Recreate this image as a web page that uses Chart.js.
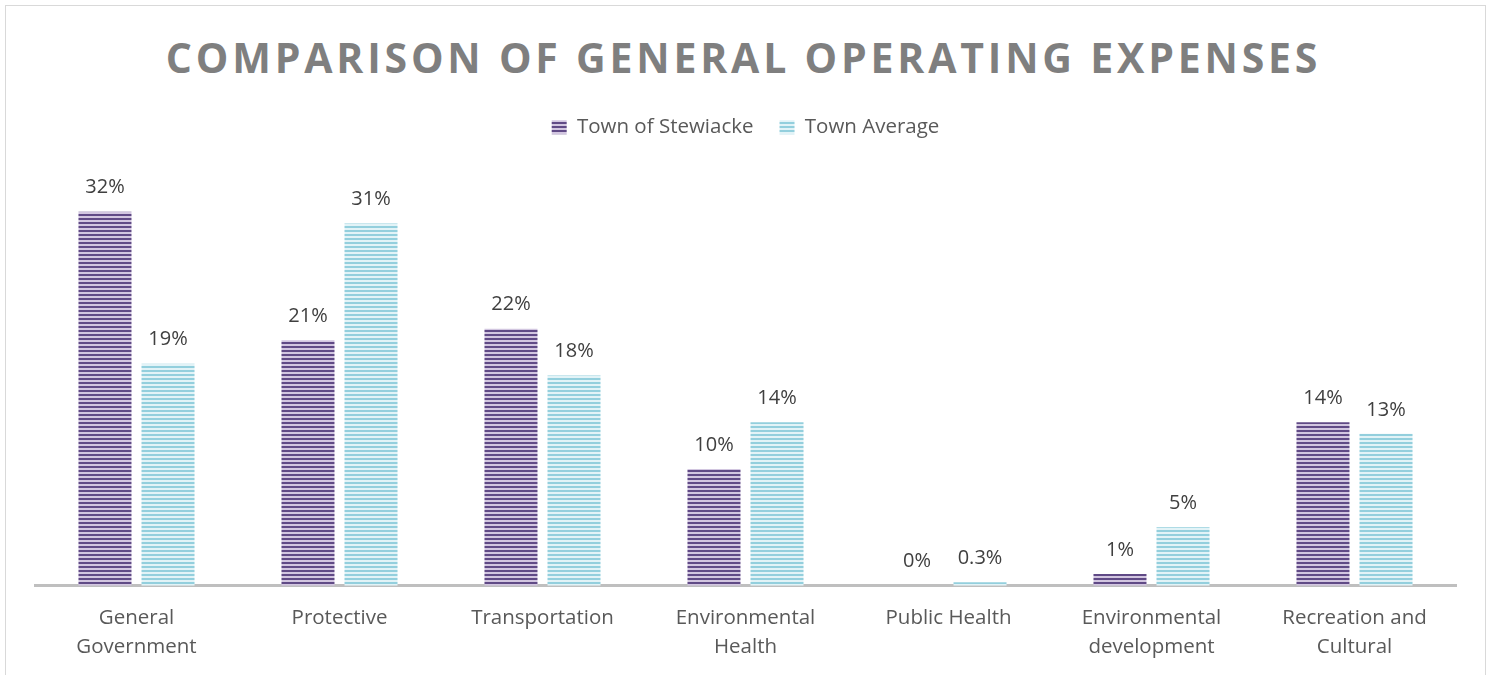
<!DOCTYPE html>
<html>
<head>
<meta charset="utf-8">
<script src="https://cdn.jsdelivr.net/npm/chart.js@4.4.1/dist/chart.umd.min.js"></script>
<style>
  body { margin: 0; background: #fff; font-family: "Open Sans", sans-serif; overflow: hidden; }
  #frame { position: absolute; left: 5px; top: 5px; width: 1479px; height: 700px; border: 1px solid #d9d9d9; }
  #title { position: absolute; left: 0; right: 4px; top: 23px; margin: 0; text-align: center;
           font: bold 41px "Open Sans", sans-serif; letter-spacing: 3.8px; color: #7f7f7f; }
  #wrap { position: absolute; left: 0; top: 0; width: 1479px; height: 666px; }
</style>
</head>
<body>
<div id="frame">
  <h1 id="title">COMPARISON OF GENERAL OPERATING EXPENSES</h1>
  <div id="wrap"><canvas id="expenseChart"></canvas></div>
</div>
<script>
const categories = [
  ["General", "Government"],
  "Protective",
  "Transportation",
  ["Environmental", "Health"],
  "Public Health",
  ["Environmental", "development"],
  ["Recreation and", "Cultural"]
];
const stewiacke = [32, 21, 22, 10, 0, 1, 14];
const townAverage = [19, 31, 18, 14, 0.3, 5, 13];

// horizontal stripe fill like the office "narrow horizontal" pattern
function stripes(dark, light) {
  const c = document.createElement("canvas");
  c.width = 4; c.height = 4;
  const g = c.getContext("2d");
  g.fillStyle = light;
  g.fillRect(0, 0, 4, 4);
  g.fillStyle = dark;
  g.fillRect(0, 0, 4, 2);
  return g.createPattern(c, "repeat");
}

const purpleFill = stripes("#604a86", "#d2c6e0");
const cyanFill = stripes("#93cfdd", "#e2f3f7");

const valueLabels = {
  id: "valueLabels",
  afterDatasetsDraw(chart) {
    const ctx = chart.ctx;
    ctx.save();
    ctx.font = '20px "Open Sans", sans-serif';
    ctx.fillStyle = "#404040";
    ctx.textAlign = "center";
    ctx.textBaseline = "middle";
    chart.data.datasets.forEach((ds, i) => {
      chart.getDatasetMeta(i).data.forEach((bar, j) => {
        ctx.fillText(ds.data[j] + "%", bar.x, bar.y - 24);
      });
    });
    ctx.restore();
  }
};

new Chart(document.getElementById("expenseChart"), {
  type: "bar",
  data: {
    labels: categories,
    datasets: [
      { label: "Town of Stewiacke", data: stewiacke, backgroundColor: purpleFill, borderWidth: 0 },
      { label: "Town Average", data: townAverage, backgroundColor: cyanFill, borderWidth: 0 }
    ]
  },
  options: {
    responsive: true,
    maintainAspectRatio: false,
    animation: false,
    categoryPercentage: 0.621,
    barPercentage: 0.841,
    layout: { padding: { top: 85, left: 29, right: 29, bottom: 0 } },
    plugins: {
      title: { display: false },
      tooltip: { enabled: false },
      legend: {
        position: "top",
        labels: {
          boxWidth: 15,
          boxHeight: 14,
          padding: 26,
          color: "#595959",
          font: { family: "Open Sans", size: 20.5 }
        }
      }
    },
    scales: {
      x: {
        grid: { display: false },
        border: { display: true, color: "#bfbfbf", width: 3 },
        ticks: {
          color: "#595959",
          padding: 10,
          maxRotation: 0,
          autoSkip: false,
          font: { family: "Open Sans", size: 20.5, lineHeight: 1.42 }
        }
      },
      y: {
        display: false,
        min: 0,
        max: 37.5
      }
    }
  },
  plugins: [valueLabels]
});
</script>
</body>
</html>
